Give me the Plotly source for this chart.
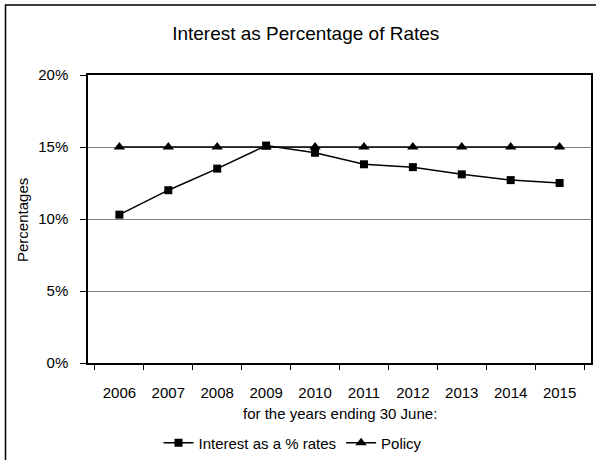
import plotly.graph_objects as go

years = ["2006", "2007", "2008", "2009", "2010", "2011", "2012", "2013", "2014", "2015"]
interest_pct = [10.3, 12.0, 13.5, 15.1, 14.6, 13.8, 13.6, 13.1, 12.7, 12.5]
policy_pct = [15, 15, 15, 15, 15, 15, 15, 15, 15, 15]
y_ticks = [0, 5, 10, 15, 20]
y_tick_labels = ["0%", "5%", "10%", "15%", "20%"]

FONT = "Liberation Sans, Arial, sans-serif"

fig = go.Figure()
fig.add_trace(go.Scatter(
    x=years, y=interest_pct, name="Interest as a % rates",
    mode="lines+markers",
    line=dict(color="black", width=1.5),
    marker=dict(symbol="square", size=8, color="black"),
))
fig.add_trace(go.Scatter(
    x=years, y=policy_pct, name="Policy",
    mode="lines+markers",
    line=dict(color="black", width=1.5),
    marker=dict(symbol="triangle-up", size=10, color="black"),
))

W, H = 596, 460
L, R, T, B = 88, 5, 75, 97
pw, ph = W - L - R, H - T - B

def px_x(x):
    return (x - L) / pw

def px_y(y):
    return (H - B - y) / ph

fig.update_layout(
    width=W, height=H,
    margin=dict(l=L, r=R, t=T, b=B, autoexpand=False),
    paper_bgcolor="white", plot_bgcolor="white",
    font=dict(family=FONT, size=15, color="black"),
    title=dict(text="Interest as Percentage of Rates", font=dict(size=19, family=FONT),
               xref="container", x=0.513, xanchor="center",
               yref="container", y=1 - 33 / H, yanchor="middle"),
    showlegend=True,
    legend=dict(orientation="h", x=px_x(293), xanchor="center",
                y=px_y(443), yanchor="middle",
                font=dict(size=15, family=FONT), itemwidth=30,
                bgcolor="rgba(0,0,0,0)"),
    xaxis=dict(
        type="category", showgrid=False, automargin=False,
        showline=True, linecolor="black", linewidth=1.5, mirror=True,
        ticks="outside", tickson="boundaries", ticklen=5, tickcolor="black",
        ticklabelstandoff=15,
    ),
    yaxis=dict(
        range=[0, 20], tickvals=y_ticks, ticktext=y_tick_labels, automargin=False,
        showgrid=True, gridcolor="#808080", gridwidth=1,
        showline=True, linecolor="black", linewidth=1.5, mirror=True,
        ticks="outside", ticklen=6, tickcolor="black",
        ticklabelstandoff=9, zeroline=False,
    ),
    annotations=[
        dict(text="Percentages", xref="paper", yref="paper",
             x=px_x(22), y=px_y(220), textangle=-90, showarrow=False,
             xanchor="center", yanchor="middle", font=dict(size=15, family=FONT)),
        dict(text="for the years ending 30 June:", xref="paper", yref="paper",
             x=0.5, y=px_y(413), showarrow=False,
             xanchor="center", yanchor="middle", font=dict(size=15, family=FONT)),
    ],
    shapes=[
        dict(type="rect", xref="paper", yref="paper",
             x0=px_x(5.5), x1=px_x(604), y0=px_y(470), y1=px_y(5),
             line=dict(color="black", width=1.5), layer="below"),
    ],
)

fig.write_html("out.html")
